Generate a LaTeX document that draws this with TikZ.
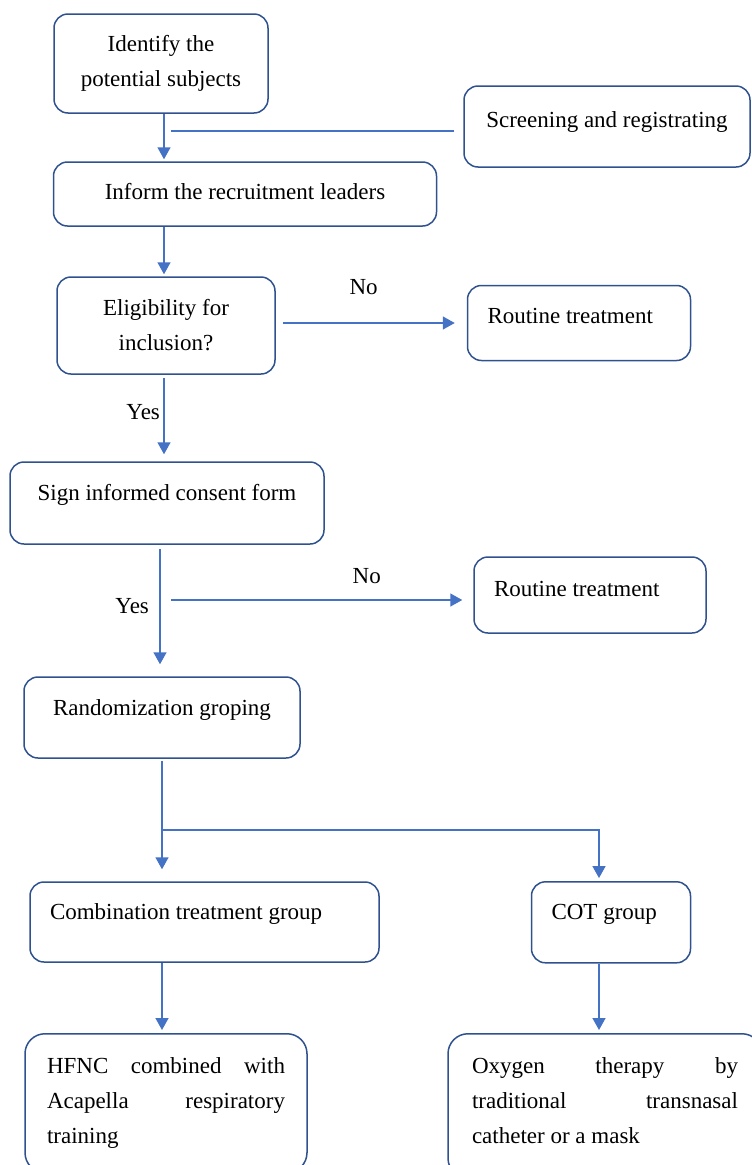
\documentclass[tikz,border=0pt]{standalone}
\usepackage{fontspec}
\setmainfont{Liberation Serif}
\usetikzlibrary{arrows.meta}

\definecolor{boxline}{HTML}{2F528F}
\definecolor{arrline}{HTML}{4472C4}

\begin{document}
\begin{tikzpicture}[x=1pt, y=-1pt,
  font=\fontsize{23}{35}\selectfont,
  box/.style={draw=boxline, line width=1.5pt, rounded corners=14pt, inner sep=0pt},
  lift/.style={text height=16pt, text depth=#1},
  lbox/.style={box, inner xsep=20pt, align=flush left, text width=#1},
  flow/.style={draw=arrline, line width=1.5pt, -{Triangle[length=12pt,width=13pt]}},
  link/.style={draw=arrline, line width=1.5pt}]
\useasboundingbox (0,0) rectangle (752,1165);
\clip (0,0) rectangle (752,1165);

\node[box, minimum width=214pt, minimum height=99pt, align=center] (ident) at (161,63.5) {Identify the\\potential subjects};
\node[box, lift=14pt, minimum width=286pt, minimum height=81pt] (screen) at (607,126.5) {Screening and registrating};
\node[box, lift=5pt, minimum width=383pt, minimum height=64pt] (inform) at (245,194) {Inform the recruitment leaders};
\node[box, minimum width=218pt, minimum height=97pt, align=center] (elig) at (166,325.5) {Eligibility for\\inclusion?};
\node[lbox=183pt, lift=16pt, minimum height=75pt] (rout1) at (579,323) {Routine treatment};
\node[box, lift=22pt, minimum width=314pt, minimum height=82pt] (sign) at (167,503) {Sign informed consent form};
\node[lbox=192pt, lift=14pt, minimum height=76pt] (rout2) at (590,595) {Routine treatment};
\node[box, lift=20pt, minimum width=276pt, minimum height=81pt] (rand) at (162,717.5) {Randomization groping};
\node[lbox=309pt, lift=21pt, minimum height=80pt] (comb) at (204.5,922) {Combination treatment group};
\node[lbox=119pt, lift=21pt, minimum height=81pt] (cot) at (611,922.3) {COT group};
\node[box, rounded corners=20pt, anchor=north, inner xsep=22pt, inner ysep=24pt, text width=238pt, align=flush left] (hfnc) at (166,1033) {HFNC\hfill combined\hfill with\\Acapella\hfill respiratory\\training};
\node[box, rounded corners=20pt, anchor=north, inner xsep=24pt, inner ysep=24pt, text width=266pt, align=flush left] (oxy) at (605,1033) {Oxygen\hfill therapy\hfill by\\traditional\hfill transnasal\\catheter or a mask\strut};

\coordinate (col) at (164,0);
\coordinate (col2) at (599,0);
\coordinate (meet) at (164,131);
\coordinate (split) at (160,600);
\coordinate (fork) at (162,830);

\draw[flow, shorten >=2pt] (ident.south -| col) -- (inform.north -| col);
\draw[link, shorten <=9pt, shorten >=7pt] (screen.west |- meet) -- (meet);
\draw[flow, shorten >=2pt] (inform.south -| col) -- (elig.north -| col);
\draw[flow, shorten <=7pt, shorten >=12pt] (elig.east |- rout1) -- node[above=24pt, pos=0.46] {No} (rout1.west);
\draw[flow, shorten <=3pt, shorten >=7pt] (elig.south -| col) -- node[left, pos=0.43] {Yes} (sign.north -| col);
\draw[flow, shorten <=4pt, shorten >=12pt] (sign.south -| split) -- node[left=7pt, pos=0.47] {Yes} (rand.north -| split);
\draw[flow, shorten <=11pt, shorten >=11pt] (split) -- node[above=12pt, pos=0.66] {No} (split -| rout2.west);
\draw[flow, shorten <=2pt, shorten >=12pt] (rand.south -| fork) -- (comb.north -| fork);
\draw[flow, shorten >=3pt] (fork) -| (cot.north -| col2);
\draw[flow, shorten >=3pt] (comb.south -| fork) -- (hfnc.north -| fork);
\draw[flow, shorten >=3pt] (cot.south -| col2) -- (oxy.north -| col2);
\end{tikzpicture}
\end{document}
